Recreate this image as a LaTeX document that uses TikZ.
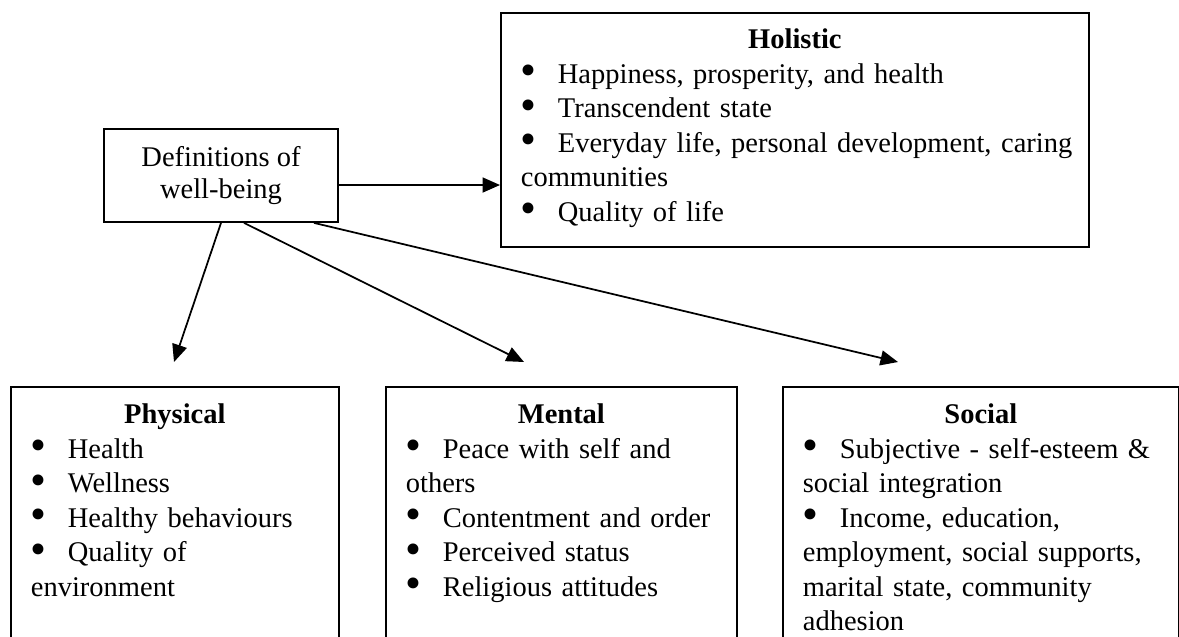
\documentclass[tikz,border=0pt]{standalone}
\usepackage{fontspec}
\setmainfont{Liberation Serif}
\usetikzlibrary{arrows.meta}
\newcommand{\bul}[1]{\mbox{\makebox[14.8pt][l]{\raisebox{-0.9pt}{\scalebox{1.6}{\textbullet}}}#1}}
\newcommand{\ttl}[1]{\makebox[\linewidth]{\bfseries #1}}

\begin{document}
\begin{tikzpicture}[x=0.4pt, y=-0.4pt,
    every node/.style={font=\fontsize{11.4}{13.8}\selectfont},
    box/.style={draw, line width=0.7pt, anchor=north west, align=left,
        inner xsep=8pt, inner ysep=0pt},
    arr/.style={-{Triangle[length=7pt, width=6pt]}, line width=0.7pt}]
            \path[use as bounding box, clip] (0,0) rectangle (1179,636);

            %Nodes
            \node[draw, line width=0.7pt, align=center, inner sep=0pt,
                minimum width=93.6pt, minimum height=37.2pt,
                font=\fontsize{11.4}{12.8}\selectfont] at (221,175.5) (def)
                {Definitions of\\well-being};
            \node[box, text width=219.2pt, text height=14.4pt, text depth=79.2pt] at (500,12) (holistic)
                {\ttl{Holistic}\\
                 \bul{Happiness, prosperity, and health}\\
                 \bul{Transcendent state}\\
                 \bul{Everyday life, personal development, caring}\\
                 \mbox{communities}\\
                 \bul{Quality of life}};
            \node[box, text width=115.2pt, text height=14.8pt, text depth=94.8pt] at (10,386) (physical)
                {\ttl{Physical}\\
                 \bul{Health}\\
                 \bul{Wellness}\\
                 \bul{Healthy behaviours}\\
                 \bul{Quality of}\\
                 \mbox{environment}};
            \node[box, text width=124.4pt, text height=14.8pt, text depth=94.8pt] at (385,386) (mental)
                {\ttl{Mental}\\
                 \bul{Peace with self and}\\
                 \mbox{others}\\
                 \bul{Contentment and order}\\
                 \bul{Perceived status}\\
                 \bul{Religious attitudes}};
            \node[box, text width=142.4pt, text height=14.8pt, text depth=94.8pt] at (782,386) (social)
                {\ttl{Social}\\
                 \bul{Subjective - self-esteem \&}\\
                 \mbox{social integration}\\
                 \bul{Income, education,}\\
                 \mbox{employment, social supports,}\\
                 \mbox{marital state, community}\\
                 \mbox{adhesion}};

            \coordinate (physin) at (174,362);
            \coordinate (mentin) at (524,362);
            \coordinate (socin) at (898,362);

            %Lines
            \draw[arr] ([yshift=-3.8pt]def.east) -- ([yshift=-3.8pt]def.east -| holistic.west);
            \draw[arr] (def.south) -- (physin);
            \draw[arr] ([xshift=9.2pt]def.south) -- (mentin);
            \draw[arr] ([xshift=37.2pt]def.south) -- (socin);
        \end{tikzpicture}
\end{document}
